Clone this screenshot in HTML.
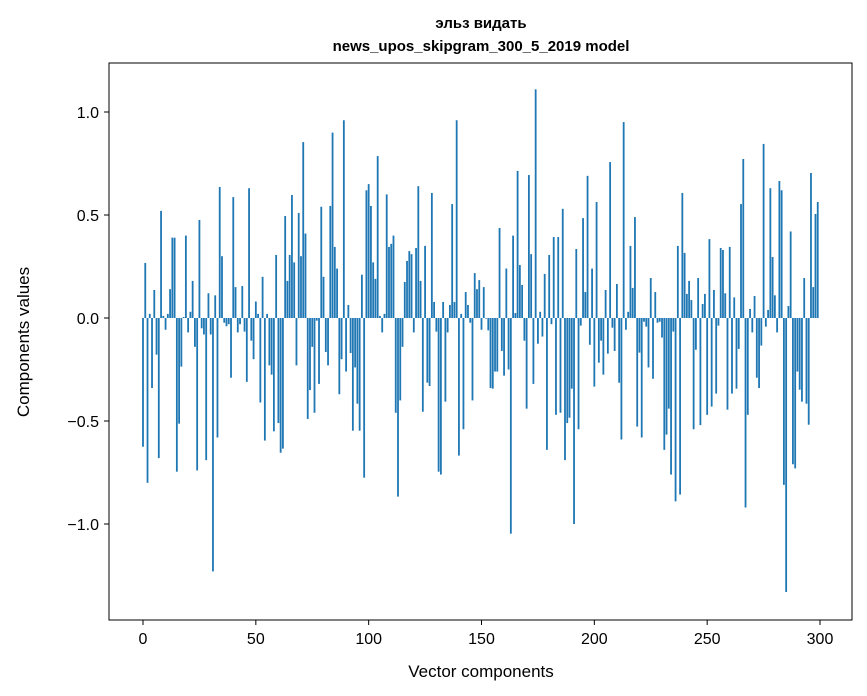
<!DOCTYPE html>
<html><head><meta charset="utf-8"><style>
body{margin:0;background:#fff}
svg{display:block;font-family:"Liberation Sans","DejaVu Sans",sans-serif}
</style></head><body>
<svg id="chart" width="867" height="696" viewBox="0 0 867 696" xmlns="http://www.w3.org/2000/svg">
<rect width="867" height="696" fill="#fff"/>
<text x="481" y="28" text-anchor="middle" font-size="15" font-weight="bold">эльз видать</text>
<text x="481" y="51" text-anchor="middle" font-size="15" font-weight="bold">news_upos_skipgram_300_5_2019 model</text>
<g id="bars"></g>
<g id="axes"></g>
<rect x="109" y="63" width="743" height="557" fill="none" stroke="#000" stroke-width="1"/>
<text x="481" y="677" text-anchor="middle" font-size="17">Vector components</text>
<text transform="translate(29,342) rotate(-90)" text-anchor="middle" font-size="17">Components values</text>
</svg>
<script>
const values = [-0.625,0.267,-0.8,0.02,-0.34,0.136,-0.178,-0.68,0.52,0.01,
-0.057,0.02,0.14,0.39,0.39,-0.746,-0.513,-0.236,0.005,0.4,
-0.07,0.03,0.18,-0.14,-0.74,0.476,-0.05,-0.08,-0.69,0.12,
-0.08,-1.23,0.11,-0.58,0.636,0.3,-0.023,-0.04,-0.03,-0.29,
0.587,0.15,-0.07,-0.03,0.155,-0.066,-0.31,0.63,-0.11,-0.2,
0.08,0.02,-0.41,0.2,-0.595,0.02,-0.23,-0.275,-0.55,0.306,
-0.51,-0.654,-0.634,0.495,0.18,0.306,0.597,0.27,-0.23,0.51,
0.3,0.854,0.41,-0.49,-0.35,-0.14,-0.46,-0.013,-0.32,0.54,
0.2,-0.165,-0.23,0.544,0.9,0.345,0.24,-0.37,-0.2,0.96,
-0.26,0.063,-0.17,-0.547,-0.24,-0.416,-0.547,0.21,-0.775,0.62,
0.65,0.544,0.27,0.19,0.786,0.01,-0.07,0.02,0.6,0.345,
0.36,0.4,-0.46,-0.867,-0.4,-0.14,0.175,0.277,0.325,0.31,
-0.07,0.34,0.64,0.18,-0.455,0.35,-0.314,-0.33,0.607,0.078,
-0.066,-0.746,-0.76,0.078,-0.406,-0.07,0.063,0.553,0.078,0.96,
-0.668,0.02,-0.54,0.126,0.063,-0.023,-0.4,0.218,0.14,0.184,
-0.057,0.15,-0.003,-0.06,-0.34,-0.343,-0.26,-0.26,0.437,-0.16,
-0.28,0.24,-0.25,-1.047,0.4,0.024,0.714,0.257,0.16,-0.11,
-0.44,0.694,0.31,-0.32,1.11,-0.125,0.03,-0.09,0.214,-0.64,
0.306,-0.03,0.393,-0.47,0.393,-0.46,0.53,-0.69,-0.51,-0.484,
-0.343,-1.0,0.335,-0.54,-0.037,0.485,0.126,0.69,-0.13,0.24,
-0.333,0.563,-0.217,-0.11,-0.275,0.136,-0.173,0.757,-0.047,-0.16,
0.165,-0.314,-0.59,0.951,-0.057,0.03,0.35,0.146,0.49,-0.527,
-0.168,-0.58,-0.018,-0.042,-0.24,0.194,-0.295,0.126,-0.023,-0.018,
-0.095,-0.64,-0.566,-0.44,-0.76,-0.066,-0.89,0.35,-0.857,0.607,
0.316,0.117,0.18,0.087,-0.54,-0.154,0.194,-0.52,0.068,0.117,
-0.47,0.383,-0.43,0.136,-0.367,-0.037,0.34,0.33,0.12,-0.445,
0.345,-0.367,0.1,-0.343,-0.15,0.553,0.772,-0.92,-0.47,0.044,
-0.07,0.107,-0.29,-0.34,-0.134,0.845,-0.042,0.039,0.63,0.296,
0.11,-0.07,0.665,0.62,-0.81,-1.33,0.058,0.42,-0.71,-0.73,
-0.26,-0.348,-0.406,0.194,-0.416,-0.518,0.704,0.15,0.505,0.563];
const xTicks = [0,50,100,150,200,250,300];
const yTicks = [-1.0,-0.5,0.0,0.5,1.0];
const yTickLabels = ["\u22121.0","\u22120.5","0.0","0.5","1.0"];

const NS = "http://www.w3.org/2000/svg";
const xScale = v => 143 + v * (677/300);
const yScale = v => 318 - v * 206;
const barW = 0.8 * (677/300);

const gb = document.getElementById('bars');
values.forEach((v, i) => {
  const r = document.createElementNS(NS, 'rect');
  
  
  const y0 = yScale(0), y1 = yScale(v);
  r.setAttribute('x', xScale(i) - barW/2);
  r.setAttribute('y', Math.min(y0, y1));
  r.setAttribute('width', barW);
  r.setAttribute('height', Math.max(Math.abs(y1 - y0), 0.3));
  r.setAttribute('fill', '#1f77b4');
  gb.appendChild(r);
});

const ga = document.getElementById('axes');
xTicks.forEach(t => {
  const x = xScale(t);
  const l = document.createElementNS(NS, 'line');
  
  
  l.setAttribute('x1', x); l.setAttribute('x2', x);
  l.setAttribute('y1', 620); l.setAttribute('y2', 625);
  l.setAttribute('stroke', '#000');
  ga.appendChild(l);
  const tx = document.createElementNS(NS, 'text');
  
  
  tx.setAttribute('x', x); tx.setAttribute('y', 644);
  tx.setAttribute('text-anchor', 'middle');
  tx.setAttribute('font-size', '16');
  tx.textContent = String(t);
  ga.appendChild(tx);
});
yTicks.forEach((t, k) => {
  const y = yScale(t);
  const l = document.createElementNS(NS, 'line');
  
  
  l.setAttribute('x1', 104); l.setAttribute('x2', 109);
  l.setAttribute('y1', y); l.setAttribute('y2', y);
  l.setAttribute('stroke', '#000');
  ga.appendChild(l);
  const tx = document.createElementNS(NS, 'text');
  
  
  tx.setAttribute('x', 99); tx.setAttribute('y', y + 6);
  tx.setAttribute('text-anchor', 'end');
  tx.setAttribute('font-size', '16');
  tx.textContent = yTickLabels[k];
  ga.appendChild(tx);
});
</script>
</body></html>
